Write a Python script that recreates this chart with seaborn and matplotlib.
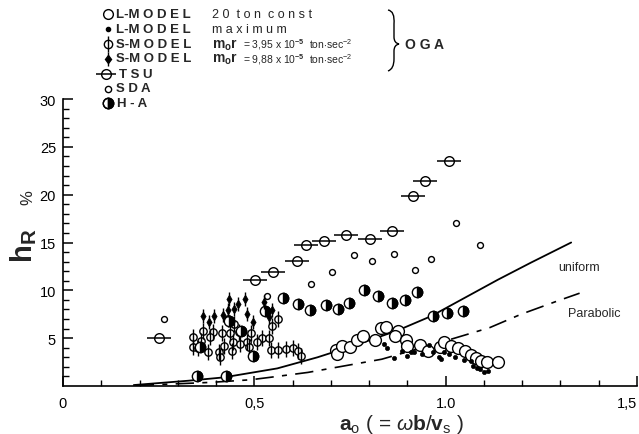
import matplotlib
matplotlib.use("Agg")
import numpy as np
import pandas as pd
import seaborn as sns
import matplotlib.pyplot as plt
from matplotlib.markers import MarkerStyle
from matplotlib.lines import Line2D
from matplotlib.path import Path
from matplotlib.patches import PathPatch

# ---------------- data ----------------
l20_a = [0.713, 0.717, 0.730, 0.749, 0.768, 0.785, 0.815, 0.832, 0.844, 0.876, 0.868, 0.897,
         0.899, 0.933, 0.953, 0.985, 0.996, 1.013, 1.033, 1.050, 1.066, 1.079, 1.092, 1.108, 1.138]
l20_h = [3.78, 3.33, 4.14, 4.03, 4.82, 5.18, 4.82, 6.04, 6.18, 5.76, 5.18, 4.82,
         4.14, 4.27, 3.65, 4.03, 4.55, 4.20, 3.93, 3.68, 3.23, 2.88, 2.64, 2.53, 2.47]

lmax_a = [0.840, 0.847, 0.866, 0.885, 0.899, 0.909, 0.918, 0.939, 0.957, 0.966, 0.983, 0.988,
          0.996, 1.009, 1.024, 1.048, 1.067, 1.071, 1.083, 1.090, 1.100, 1.110]
lmax_h = [4.37, 3.93, 2.89, 3.68, 3.16, 3.51, 3.51, 3.33, 4.27, 3.51, 2.99, 2.81,
          3.57, 3.33, 2.99, 2.74, 2.64, 2.11, 1.84, 1.77, 1.43, 1.59]

s395_a = [0.340, 0.366, 0.392, 0.415, 0.437, 0.448, 0.461, 0.490, 0.519, 0.538, 0.383, 0.360,
          0.340, 0.353, 0.379, 0.407, 0.422, 0.441, 0.445, 0.463, 0.482, 0.486, 0.508, 0.543,
          0.561, 0.582, 0.600, 0.613, 0.621, 0.561, 0.546, 0.409, 0.432]
s395_h = [5.07, 5.76, 5.66, 5.52, 5.59, 6.46, 5.66, 5.52, 4.97, 4.97, 5.07, 4.72,
          4.03, 3.96, 3.57, 3.51, 4.20, 3.61, 4.61, 4.38, 4.55, 4.03, 4.55, 3.75,
          3.75, 3.85, 3.93, 3.68, 3.16, 7.05, 6.28, 2.99, 6.98]

s988_a = [0.433, 0.458, 0.476, 0.526, 0.367, 0.381, 0.394, 0.419, 0.430, 0.448, 0.482, 0.497,
          0.545, 0.539]
s988_h = [9.14, 8.61, 9.14, 8.78, 7.32, 6.70, 7.32, 7.40, 7.95, 8.02, 7.50, 6.74,
          7.95, 7.26]

tsu_a = [0.252, 0.501, 0.550, 0.611, 0.634, 0.682, 0.740, 0.802, 0.859, 0.915, 0.946, 1.010]
tsu_h = [5.00, 11.07, 11.95, 13.10, 14.76, 15.20, 15.76, 15.39, 16.25, 19.90, 21.46, 23.57]

sda_a = [0.265, 0.533, 0.649, 0.702, 0.760, 0.807, 0.864, 0.919, 0.961, 1.028, 1.090]
sda_h = [7.05, 9.38, 10.66, 11.90, 13.72, 13.09, 13.75, 12.08, 13.26, 17.08, 14.76]

ha_a = [0.351, 0.425, 0.357, 0.435, 0.465, 0.497, 0.529, 0.576, 0.613, 0.645, 0.687, 0.719,
        0.748, 0.786, 0.822, 0.859, 0.894, 0.926, 0.968, 1.003, 1.045]
ha_h = [1.07, 1.07, 4.03, 6.80, 5.80, 3.10, 7.85, 9.24, 8.61, 7.95, 8.51, 8.02,
        8.68, 10.07, 9.45, 8.72, 9.03, 9.79, 7.32, 7.60, 7.81]

uni_a = [0.185, 0.327, 0.420, 0.560, 0.665, 0.770, 0.874, 0.962, 1.049, 1.136, 1.223, 1.293,
         1.328]
uni_h = [0.10, 0.55, 0.90, 1.84, 3.00, 4.35, 5.80, 7.30, 9.20, 11.10, 12.90, 14.30,
         15.00]

par_a = [0.19, 0.387, 0.49, 0.54, 0.64, 0.833, 1.015, 1.115, 1.197, 1.293, 1.350]
par_h = [0.05, 0.38, 0.65, 0.90, 1.42, 2.80, 4.90, 6.10, 7.50, 8.90, 9.70]

xticks = [0, 0.5, 1.0, 1.5]
xticklabels = ["0", "0,5", "1.0", "1,5"]
yticks = [5, 10, 15, 20, 25, 30]
yticklabels = ["5", "10", "15", "20", "25", "30"]

# ---------------- style ----------------
sns.set_style("ticks")
plt.rcParams["font.family"] = ["Liberation Sans", "DejaVu Sans"]
plt.rcParams["mathtext.fontset"] = "custom"
plt.rcParams["mathtext.rm"] = "Liberation Sans"
plt.rcParams["mathtext.it"] = "Liberation Sans:italic"
plt.rcParams["mathtext.bf"] = "Liberation Sans:bold"

W, H = 639, 435
fig = plt.figure(figsize=(W / 100, H / 100), dpi=100)
ax = fig.add_axes([63 / W, 48 / H, 574 / W, 287 / H])


def fx(x):
    return x / W


def fy(y):
    return 1 - y / H


# ---------------- curves ----------------
sns.lineplot(x=uni_a, y=uni_h, ax=ax, color="black", lw=1.3, sort=False, estimator=None)
sns.lineplot(x=par_a, y=par_h, ax=ax, color="black", lw=1.2, sort=False, estimator=None)
ax.lines[-1].set_dashes([11, 5, 3, 5])

# ---------------- markers ----------------
def scat(x, y, marker, s, fc, ec, lw=1.0, z=3):
    sns.scatterplot(x=x, y=y, ax=ax, marker=marker, s=s, color=fc, facecolor=fc,
                    edgecolor=ec, linewidth=lw, legend=False, zorder=z)


def bars(x, y, marker, s, lw=1.0, z=3):
    sns.scatterplot(x=x, y=y, ax=ax, marker=marker, s=s, color="black", linewidth=lw,
                    legend=False, zorder=z)


# L-MODEL 20 ton const
scat(l20_a, l20_h, "o", 72, "white", "black", 1.0, 3)
# L-MODEL maximum
scat(lmax_a, lmax_h, "o", 9, "black", "black", 0.5, 4)
# S-MODEL 3.95
scat(s395_a, s395_h, "o", 28, "white", "black", 1.0, 3.1)
bars(s395_a, s395_h, "|", 130, 1.0, 3.2)
# S-MODEL 9.88
bars(s988_a, s988_h, "|", 95, 1.0, 4)
scat(s988_a, s988_h, "d", 20, "black", "black", 0.5, 4.1)
# TSU
scat(tsu_a, tsu_h, "o", 48, "white", "black", 1.0, 3)
bars(tsu_a, tsu_h, "_", 290, 1.1, 3.1)
# SDA
scat(sda_a, sda_h, "o", 18, "white", "black", 1.0, 3)
# H-A
scat(ha_a, ha_h, "o", 55, "white", "black", 1.0, 3.3)
scat(ha_a, ha_h, MarkerStyle("o", fillstyle="right"), 55, "black", "black", 1.0, 3.4)

# ---------------- axes ----------------
ax.set_xlim(0, 1.5)
ax.set_ylim(0, 30)
ax.set_xlabel("")
ax.set_ylabel("")
for sp in ["top", "right"]:
    ax.spines[sp].set_visible(False)
for sp in ["left", "bottom"]:
    ax.spines[sp].set_linewidth(1.2)
    ax.spines[sp].set_color("black")
ax.set_xticks(xticks)
ax.set_xticklabels(xticklabels)
ax.set_xticks(np.arange(0, 1.51, 0.1), minor=True)
ax.set_yticks(yticks)
ax.set_yticklabels(yticklabels)
ax.set_yticks(np.arange(1, 30, 1), minor=True)
ax.tick_params(axis="both", which="major", direction="in", length=7, width=1.1,
               labelsize=10.5, colors="black")
ax.tick_params(axis="both", which="minor", direction="in", length=4, width=1.0, colors="black")
ax.tick_params(axis="x", which="major", pad=7)
ax.tick_params(axis="y", which="major", pad=5)
ax.get_xticklabels()[-1].set_horizontalalignment("right")

# curve labels
ax.text(1.295, 12.4, "uniform", fontsize=9, ha="left", va="center")
ax.text(1.32, 7.6, "Parabolic", fontsize=9, ha="left", va="center")

# axis titles
fig.text(fx(401), fy(425), r"$\mathbf{a}_{\mathrm{o}}$ ( = $\omega\mathbf{b}$/$\mathbf{v}_{\mathrm{s}}$ )",
         fontsize=15, ha="center", va="center")
fig.text(fx(24), fy(246), r"$\mathbf{h}_{\mathbf{R}}$", fontsize=21, rotation=90,
         ha="center", va="center")
fig.text(fx(28), fy(198), "%", fontsize=12, rotation=90, ha="center", va="center")

# ---------------- legend (manual) ----------------
rows = [15, 30, 45, 59.5, 75, 89.5, 104]


def lmark(x, y, **kw):
    fig.add_artist(Line2D([fx(x)], [fy(y)], transform=fig.transFigure, linestyle="none", **kw))


lmark(108, rows[0], marker="o", markersize=7, mfc="white", mec="black", mew=1.0)
lmark(108, rows[1], marker="o", markersize=3, mfc="black", mec="black")
lmark(108, rows[2], marker="o", markersize=6, mfc="white", mec="black", mew=1.0)
lmark(108, rows[2], marker="|", markersize=12, mec="black", mew=1.0)
lmark(108, rows[3], marker="|", markersize=10, mec="black", mew=1.0)
lmark(108, rows[3], marker="d", markersize=4.5, mfc="black", mec="black")
lmark(106, rows[4], marker="o", markersize=7, mfc="white", mec="black", mew=1.0)
lmark(106, rows[4], marker="_", markersize=15, mec="black", mew=1.1)
lmark(108, rows[5], marker="o", markersize=4.5, mfc="white", mec="black", mew=1.0)
lmark(108, rows[6], marker="o", markersize=7.5, mfc="white", mec="black", mew=1.0)
lmark(108, rows[6], marker=MarkerStyle("o", fillstyle="right"), markersize=7.5, mfc="black",
      mec="black", mew=1.0)

bold = dict(fontsize=9.5, fontweight="bold", ha="left", va="center")
fig.text(fx(116), fy(rows[0]), "L-M O D E L", **bold)
fig.text(fx(116), fy(rows[1]), "L-M O D E L", **bold)
fig.text(fx(116), fy(rows[2]), "S-M O D E L", **bold)
fig.text(fx(116), fy(rows[3]), "S-M O D E L", **bold)
fig.text(fx(119), fy(rows[4]), "T S U", **bold)
fig.text(fx(116), fy(rows[5]), "S D A", **bold)
fig.text(fx(117), fy(rows[6]), "H - A", **bold)

small = dict(fontsize=9, ha="left", va="center")
fig.text(fx(212), fy(rows[0]), "2 0  t o n  c o n s t", **small)
fig.text(fx(212), fy(rows[1]), "m a x i m u m", **small)
for r, val in [(rows[2], "3,95"), (rows[3], "9,88")]:
    fig.text(fx(212), fy(r), r"$\mathbf{m_o r}$", fontsize=10, ha="left", va="center")
    fig.text(fx(243), fy(r), val.join([r"= ", r" x 10$^{\mathbf{-5}}$  ton$\cdot$sec$^{-2}$"]),
             fontsize=7.5, ha="left", va="center")

# brace and OGA
verts = [(fx(388), fy(11)), (fx(395), fy(12)), (fx(394), fy(25)),
         (fx(394), fy(38)), (fx(394), fy(44)), (fx(399), fy(45)),
         (fx(394), fy(46)), (fx(394), fy(52)), (fx(394), fy(60)),
         (fx(394), fy(70)), (fx(388), fy(72))]
codes = [Path.MOVETO, Path.CURVE3, Path.CURVE3, Path.LINETO, Path.CURVE3, Path.CURVE3,
         Path.CURVE3, Path.CURVE3, Path.LINETO, Path.CURVE3, Path.CURVE3]
fig.add_artist(PathPatch(Path(verts, codes), transform=fig.transFigure, fill=False,
                         edgecolor="black", lw=1.0))
fig.text(fx(405), fy(45), "O G A", fontsize=10, fontweight="bold", ha="left", va="center")

fig.savefig("out.png", dpi=100)
